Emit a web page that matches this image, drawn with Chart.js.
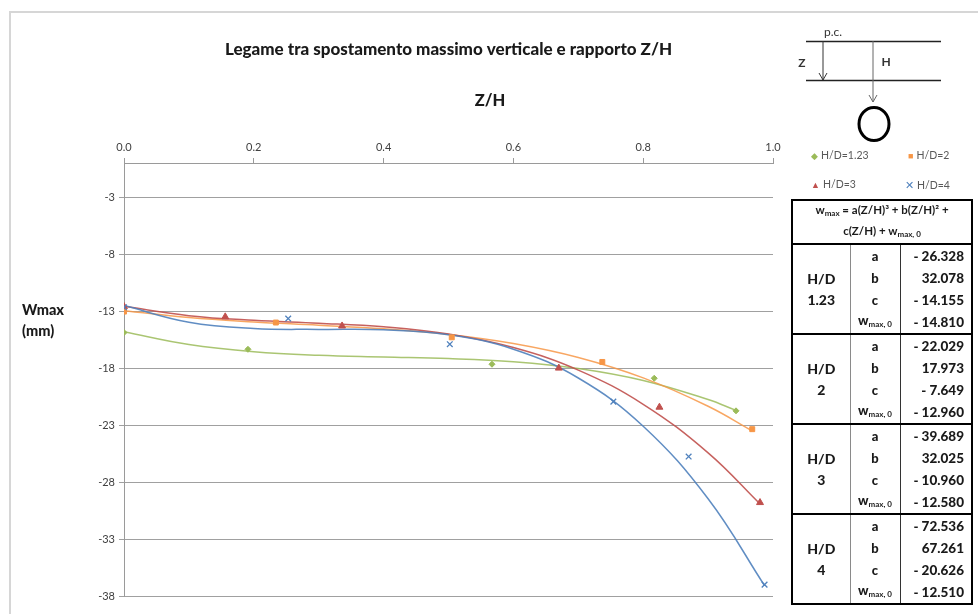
<!DOCTYPE html>
<html><head><meta charset="utf-8">
<script src="https://cdn.jsdelivr.net/npm/chart.js@4.4.1/dist/chart.umd.min.js"></script>
<style>
html,body{margin:0;padding:0;background:#fff;}
#wrap{position:relative;width:978px;height:614px;overflow:hidden;font-family:Lato,'Open Sans',sans-serif;color:#1a1a1a;}
#frame{position:absolute;left:9px;top:11px;width:1000px;height:640px;border:2px solid #d6d6d6;box-sizing:border-box;}
#c{position:absolute;left:0;top:0;}
.ov{position:absolute;white-space:nowrap;}
#xt{left:490px;top:100px;transform:translate(-50%,-50%);font-weight:900;font-size:16.5px;}
#yt{left:22px;top:299px;font-weight:900;font-size:14.5px;line-height:21px;}
.lg{position:absolute;font-size:10.5px;color:#595959;white-space:nowrap;}
.lg span{font-size:9px;margin-right:3px;}
#coef{position:absolute;left:791px;top:199px;width:182px;border-collapse:collapse;border:2px solid #000;table-layout:fixed;font-weight:900;font-size:13.5px;}
#coef td{padding:0;height:22px;line-height:18px;}
#coef td.hd{height:40px;text-align:center;font-size:11.5px;line-height:17px;border-bottom:2px solid #000;font-weight:bold;}
#coef td.grp{text-align:center;vertical-align:middle;border-right:1px solid #8a8a8a;font-size:14px;line-height:21px;}
#coef td.par{text-align:center;border-right:1px solid #333;font-size:13px;}
#coef td.val{text-align:right;padding-right:7px;}
#coef tr.gs td{border-top:2px solid #000;}
#coef sub{font-size:8px;vertical-align:-2px;font-weight:bold;}
</style></head>
<body>
<div id="wrap">
  <div id="frame"></div>
  <canvas id="c" width="978" height="614"></canvas>
  <div class="ov" id="xt">Z/H</div>
  <div class="ov" id="yt">Wmax<br>(mm)</div>
  <svg class="ov" style="left:0;top:0" width="978" height="150">
    <text x="833" y="36" font-size="12" fill="#333" text-anchor="middle" font-family="Lato">p.c.</text>
    <line x1="806" y1="41.5" x2="941" y2="41.5" stroke="#222" stroke-width="1.3"/>
    <line x1="806" y1="80.5" x2="941" y2="80.5" stroke="#222" stroke-width="1.3"/>
    <line x1="823" y1="41" x2="823" y2="80" stroke="#333" stroke-width="1"/>
    <polyline points="819,73 823,80 827,73" fill="none" stroke="#333" stroke-width="1"/>
    <line x1="873" y1="41" x2="873" y2="102" stroke="#666" stroke-width="1"/>
    <polyline points="869,95 873,102 877,95" fill="none" stroke="#666" stroke-width="1"/>
    <text x="802" y="67" font-size="12" fill="#333" text-anchor="middle" font-family="Lato" font-weight="bold">Z</text>
    <text x="886" y="66" font-size="12" fill="#333" text-anchor="middle" font-family="Lato" font-weight="bold">H</text>
    <ellipse cx="874" cy="124" rx="15" ry="16.5" fill="none" stroke="#000" stroke-width="3"/>
  </svg>
  <div class="lg" style="left:811px;top:149px"><span style="color:#9BBB59">◆</span>H/D=1.23</div>
  <div class="lg" style="left:908px;top:149px"><span style="color:#F79646">■</span>H/D=2</div>
  <div class="lg" style="left:811px;top:178px"><span style="color:#C0504D">▲</span>H/D=3</div>
  <div class="lg" style="left:905px;top:178px"><span style="color:#4F81BD;font-size:11px">✕</span>H/D=4</div>
  <table id="coef"><colgroup><col style="width:58px"><col style="width:50px"><col></colgroup><tbody id="tb"></tbody></table>
</div>
<script>
// ---- data ----
const seriesNames = ['H/D=1.23', 'H/D=2', 'H/D=3', 'H/D=4'];
const groupLabels = ['1.23', '2', '3', '4'];

const hd123X = [0, 0.191, 0.567, 0.817, 0.943];
const hd123Y = [-14.88, -16.35, -17.66, -18.89, -21.75];
const hd2X = [0, 0.234, 0.505, 0.737, 0.968];
const hd2Y = [-13.04, -14.0, -15.3, -17.46, -23.36];
const hd3X = [0, 0.156, 0.336, 0.670, 0.825, 0.980];
const hd3Y = [-12.6, -13.5, -14.3, -18.0, -21.43, -29.8];
const hd4X = [0, 0.253, 0.502, 0.754, 0.870, 0.987];
const hd4Y = [-12.66, -13.65, -15.9, -20.94, -25.76, -37.0];

// trend lines (cubic fits)
const trendSteps = [0, 0.1, 0.2, 0.3, 0.4, 0.5, 0.6, 0.7, 0.8, 0.9];
const trendEnd = [0.943, 0.968, 0.980, 0.987];
const trend123 = [-14.810, -15.931, -16.569, -16.880, -17.025, -17.159, -17.442, -18.031, -19.084, -20.760, -21.711];
const trend2 = [-12.960, -13.567, -13.947, -14.232, -14.554, -15.045, -15.837, -17.063, -18.855, -21.345, -23.504];
const trend3 = [-12.580, -13.395, -13.809, -14.057, -14.380, -15.015, -16.200, -18.173, -21.173, -25.437, -29.919];
const trend4 = [-12.510, -13.973, -14.525, -14.603, -14.641, -15.075, -16.339, -18.870, -23.102, -29.471, -37.088];

// coefficient table
const coefA = [-26.328, -22.029, -39.689, -72.536];
const coefB = [32.078, 17.973, 32.025, 67.261];
const coefC = [-14.155, -7.649, -10.960, -20.626];
const coefW0 = [-14.810, -12.960, -12.580, -12.510];

const xTicks = [0, 0.2, 0.4, 0.6, 0.8, 1.0];
const yTicks = [-38, -33, -28, -23, -18, -13, -8, -3];

// ---- table ----
function fmt(v) { return (v < 0 ? '- ' : '') + Math.abs(v).toFixed(3); }
const tb = document.getElementById('tb');
let html = '<tr><td class="hd" colspan="3">w<sub>max</sub> = a(Z/H)³ + b(Z/H)² +<br>c(Z/H) + w<sub>max, 0</sub></td></tr>';
const parNames = ['a', 'b', 'c', 'w<sub>max, 0</sub>'];
for (let g = 0; g < 4; g++) {
  const vals = [coefA[g], coefB[g], coefC[g], coefW0[g]];
  for (let r = 0; r < 4; r++) {
    html += '<tr' + (r === 0 && g > 0 ? ' class="gs"' : '') + '>';
    if (r === 0) html += '<td class="grp" rowspan="4">H/D<br>' + groupLabels[g] + '</td>';
    html += '<td class="par">' + parNames[r] + '</td><td class="val">' + fmt(vals[r]) + '</td></tr>';
  }
}
tb.innerHTML = html;

// ---- chart ----
const pts = (xs, ys) => xs.map((x, i) => ({x: x, y: ys[i]}));
const trendPts = (ys, end) => trendSteps.concat([end]).map((x, i) => ({x: x, y: ys[i]}));
const colors = ['#9BBB59', '#F79646', '#C0504D', '#4F81BD'];
const lineColors = ['rgba(155,187,89,0.85)', 'rgba(247,150,70,0.85)', 'rgba(192,80,77,0.9)', 'rgba(79,129,189,0.9)'];
const markerData = [pts(hd123X, hd123Y), pts(hd2X, hd2Y), pts(hd3X, hd3Y), pts(hd4X, hd4Y)];
const trendData = [trendPts(trend123, trendEnd[0]), trendPts(trend2, trendEnd[1]), trendPts(trend3, trendEnd[2]), trendPts(trend4, trendEnd[3])];
const styles = ['rectRot', 'rect', 'triangle', 'crossRot'];
const radii = [3, 3.5, 4, 4];

const datasets = [];
for (let i = 0; i < 4; i++) {
  datasets.push({
    label: seriesNames[i] + ' trend', data: trendData[i], showLine: true,
    borderColor: lineColors[i], borderWidth: 1.5, pointRadius: 0, tension: 0.4,
    fill: false, order: 20 - i
  });
}
for (let i = 0; i < 4; i++) {
  datasets.push({
    label: seriesNames[i], data: markerData[i], showLine: false,
    pointStyle: styles[i], pointRadius: radii[i],
    backgroundColor: colors[i], borderColor: colors[i],
    pointBorderWidth: i === 3 ? 1.3 : 1, order: 10 - i
  });
}

const tickFont = {family: 'Lato', size: 11};
new Chart(document.getElementById('c'), {
  type: 'scatter',
  data: {datasets: datasets},
  options: {
    responsive: false, animation: false,
    layout: {padding: {left: 0, right: 205, top: 0, bottom: 18}},
    plugins: {
      legend: {display: false}, tooltip: {enabled: false},
      title: {display: true, fullSize: false, text: 'Legame tra spostamento massimo verticale e rapporto Z/H',
        font: {family: 'Lato', size: 17, weight: '900'}, color: '#1a1a1a', padding: {top: 39, bottom: 0}}
    },
    scales: {
      x: {
        type: 'linear', position: 'top', min: 0, max: 1,
        afterBuildTicks: s => { s.ticks = xTicks.map(v => ({value: v})); },
        afterFit: s => { s.height = 103.6; },
        ticks: {font: tickFont, color: '#404040', padding: 4, callback: v => Number(v).toFixed(1), maxRotation: 0},
        grid: {drawOnChartArea: false, drawTicks: true, tickLength: 5, color: '#9a9a9a'},
        border: {color: '#9a9a9a', width: 1}
      },
      y: {
        type: 'linear', min: -38, max: 0,
        afterBuildTicks: s => { s.ticks = yTicks.map(v => ({value: v})); },
        afterFit: s => { s.width = 124; },
        ticks: {font: tickFont, color: '#404040', padding: 4, callback: v => String(v)},
        grid: {color: '#a0a0a0', lineWidth: 1, tickLength: 5},
        border: {color: '#9a9a9a', width: 1}
      }
    }
  }
});
</script>
</body></html>
